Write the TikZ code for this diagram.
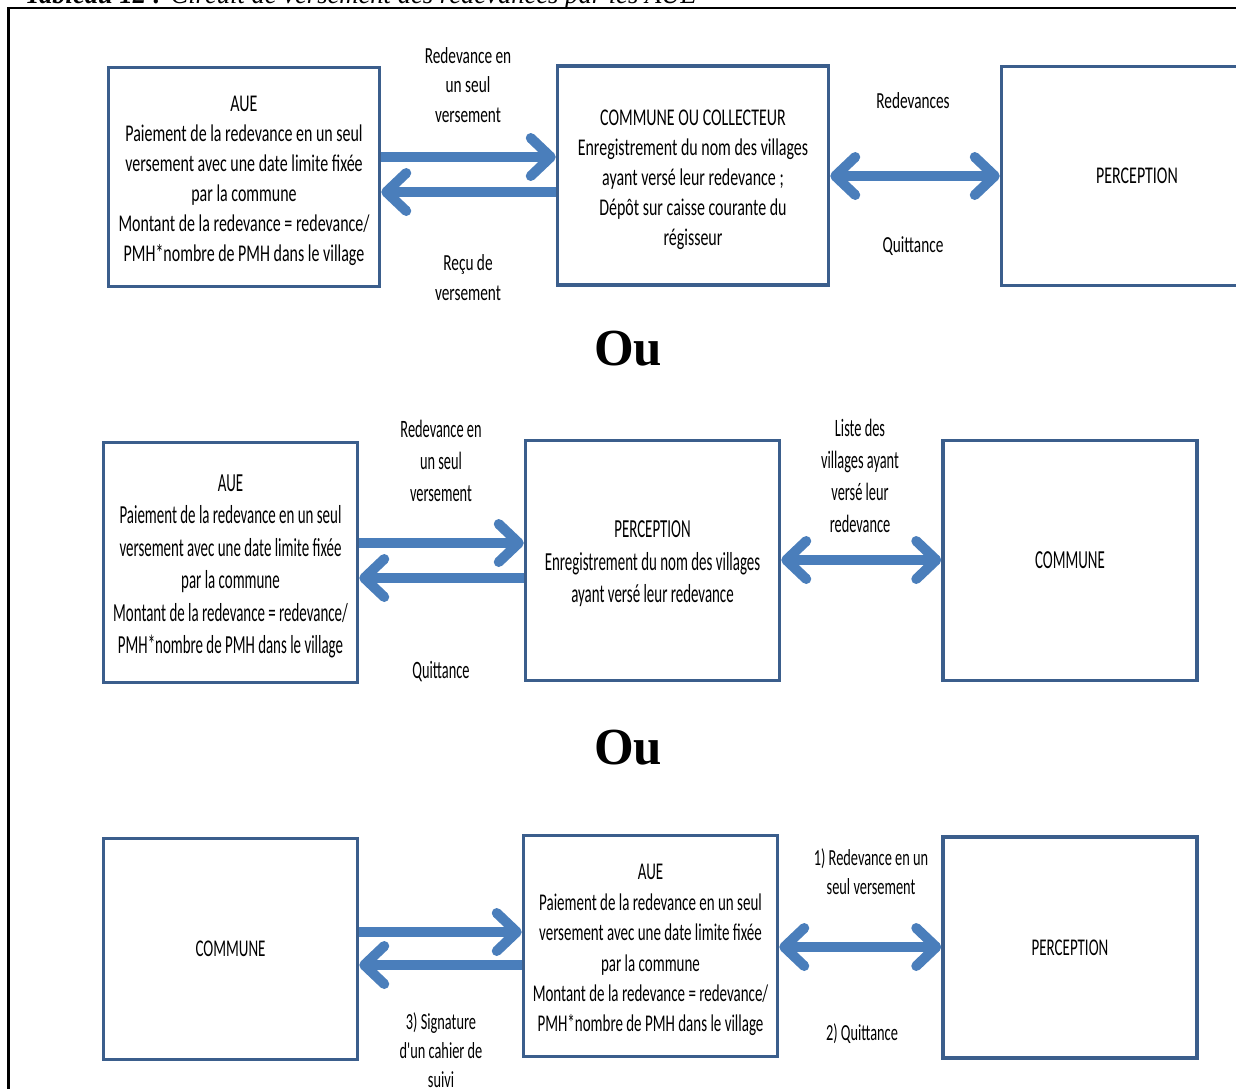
\documentclass[tikz,border=0pt]{standalone}
\usepackage{fontspec}
\setmainfont{Carlito}
\newfontfamily\rowafont{Carlito}[FakeStretch=0.665]
\newfontfamily\rowbfont{Carlito}[FakeStretch=0.574]
\newfontfamily\rowcfont{Carlito}[FakeStretch=0.624]
\newfontfamily\oufont{Liberation Serif}[FakeStretch=0.98]
\newfontfamily\capfont{Liberation Serif}[FakeStretch=0.95]
\usetikzlibrary{arrows.meta}
\definecolor{boxline}{HTML}{3B5E8C}
\definecolor{flowblue}{HTML}{4A7EBB}
\tikzset{barb/.tip={Straight Barb[length=20pt,width=38pt,round]}}
\newcommand\lowstrut{\rule{0pt}{24pt}}

\begin{document}
\begin{tikzpicture}[x=1pt,y=-1pt,
  box/.style={draw=boxline,line width=3.5pt,align=center,inner sep=0pt},
  boxa/.style={box,minimum width=271pt,minimum height=219pt,
               font=\rowafont\fontsize{24}{30}\selectfont},
  boxb/.style={box,minimum width=254pt,minimum height=240pt,
               font=\rowbfont\fontsize{26}{32.5}\selectfont},
  boxc/.style={box,minimum width=254pt,minimum height=221pt,
               font=\rowcfont\fontsize{24}{30.4}\selectfont},
  lbla/.style={align=center,inner sep=0pt,font=\rowafont\fontsize{23}{29.5}\selectfont},
  lblb/.style={align=center,inner sep=0pt,font=\rowbfont\fontsize{25}{32}\selectfont},
  lblc/.style={align=center,inner sep=0pt,font=\rowcfont\fontsize{23}{29}\selectfont},
  flow/.style={draw=flowblue,line width=10pt,-barb},
  both/.style={draw=flowblue,line width=10pt,barb-barb},
  ou/.style={font=\oufont\bfseries\fontsize{52}{52}\selectfont}]
\clip (0,0) rectangle (1236,1088);
% frame and title
\draw[line width=2.5pt] (8.5,1100) |- (1300,8);
\node[anchor=base west,inner sep=0pt,font=\capfont\itshape\fontsize{28}{28}\selectfont]
  (titre) at (25,3) {\textbf{Tableau 12 :} Circuit de versement des redevances par les AUE};

% first scheme
\node[boxa] (aue1) at (244,177) {\lowstrut AUE\\Paiement de la redevance en un seul\\versement avec une date limite fixée\\par la commune\\Montant de la redevance = redevance/\\PMH*nombre de PMH dans le village};
\node[boxa] (com1) at (693,175.5) {\lowstrut COMMUNE OU COLLECTEUR\\Enregistrement du nom des villages\\ayant versé leur redevance ;\\Dépôt sur caisse courante du\\régisseur};
\node[boxa] (per1) at (1137,176) {PERCEPTION};
\draw[flow] (aue1.east |- 0,157) -- (com1.west |- 0,157);
\draw[flow] (com1.west |- 0,192) -- (aue1.east |- 0,192);
\draw[both] (com1.east |- 0,176) -- (per1.west |- 0,176);
\node[lbla] (red1) at (468,85) {Redevance en\\un seul\\versement};
\node[lbla] (recu1) at (468,277.5) {Reçu de\\versement};
\node[lbla] (reds1) at (913,101) {Redevances};
\node[lbla] (quit1) at (913,246) {Quittance};

\node[ou] (ou1) at (628,349) {Ou};

% second scheme
\node[boxb] (aue2) at (230.5,562.5) {\lowstrut AUE\\Paiement de la redevance en un seul\\versement avec une date limite fixée\\par la commune\\Montant de la redevance = redevance/\\PMH*nombre de PMH dans le village};
\node[boxb] (per2) at (652.5,560.5) {\lowstrut PERCEPTION\\Enregistrement du nom des villages\\ayant versé leur redevance};
\node[boxb] (com2) at (1070,560.5) {COMMUNE};
\draw[flow] (aue2.east |- 0,543) -- (per2.west |- 0,543);
\draw[flow] (per2.west |- 0,578) -- (aue2.east |- 0,578);
\draw[both] (per2.east |- 0,560) -- (com2.west |- 0,560);
\node[lblb] (red2) at (441,461) {Redevance en\\un seul\\versement};
\node[lblb] (quit2) at (441,672) {Quittance};
\node[lblb] (liste2) at (860,475.5) {Liste des\\villages ayant\\versé leur\\redevance};

\node[ou] (ou2) at (628,748) {Ou};

% third scheme
\node[boxc] (com3) at (230.5,949) {COMMUNE};
\node[boxc] (aue3) at (650.5,946) {\lowstrut AUE\\Paiement de la redevance en un seul\\versement avec une date limite fixée\\par la commune\\Montant de la redevance = redevance/\\PMH*nombre de PMH dans le village};
\node[boxc] (per3) at (1070,947.5) {PERCEPTION};
\draw[flow] (com3.east |- 0,932) -- (aue3.west |- 0,932);
\draw[flow] (aue3.west |- 0,965) -- (com3.east |- 0,965);
\draw[both] (aue3.east |- 0,947) -- (per3.west |- 0,947);
\node[lblc] (sign3) at (441,1050) {3) Signature\\d'un cahier de\\suivi};
\node[lblc] (red3) at (871,871.5) {1) Redevance en un\\seul versement};
\node[lblc] (quit3) at (862,1034) {2) Quittance};
\end{tikzpicture}
\end{document}
